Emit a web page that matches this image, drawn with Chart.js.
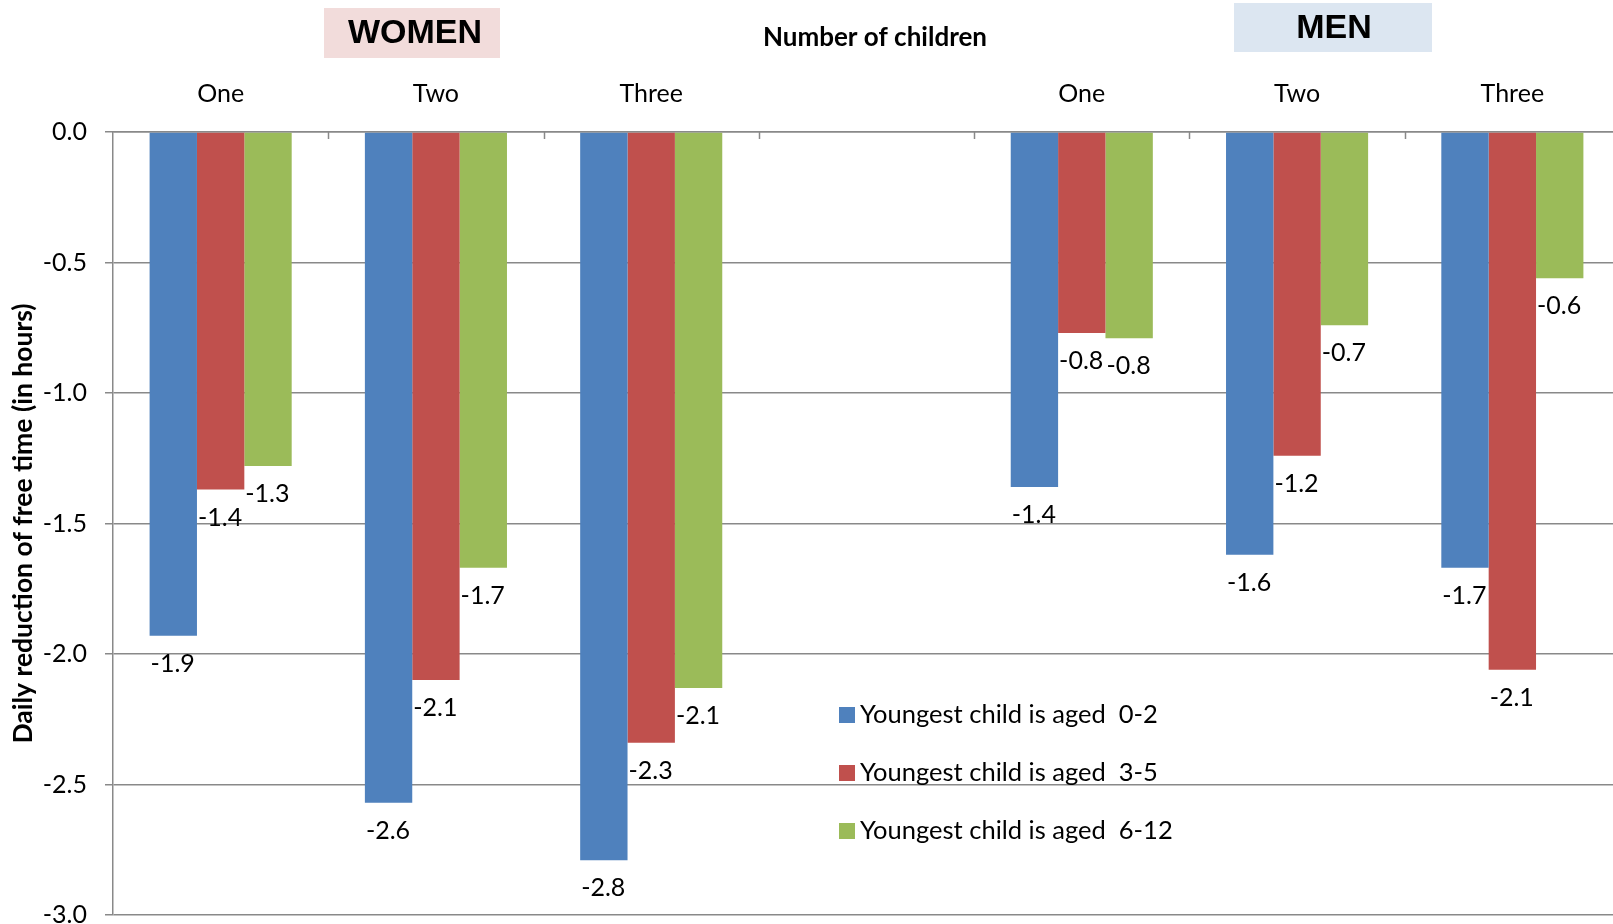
<!DOCTYPE html>
<html>
<head>
<meta charset="utf-8">
<script src="https://cdn.jsdelivr.net/npm/chart.js@4.4.1/dist/chart.umd.min.js"></script>
<style>
  html, body { margin: 0; padding: 0; background: #fff; overflow: hidden; }
  #wrap { width: 1620px; height: 948px; position: relative; }
</style>
</head>
<body>
<div id="wrap"><canvas id="chart"></canvas></div>
<script>
// chart data
const categories = ["One", "Two", "Three", "", "One", "Two", "Three"];
const seriesNames = ["Youngest child is aged  0-2", "Youngest child is aged  3-5", "Youngest child is aged  6-12"];
const aged0to2 = [-1.93, -2.57, -2.79, null, -1.36, -1.62, -1.67];
const aged3to5 = [-1.37, -2.10, -2.34, null, -0.77, -1.24, -2.06];
const aged6to12 = [-1.28, -1.67, -2.13, null, -0.79, -0.74, -0.56];
const yTicks = [0, -0.5, -1, -1.5, -2, -2.5, -3];

const colors = ["#4f81bd", "#c0504d", "#9bbb59"];
const gridColor = "#898989";
const labelFont = "Lato, 'Noto Sans', sans-serif";

// value labels under each bar end
const valueLabels = {
    id: "valueLabels",
    afterDatasetsDraw(chart) {
        const ctx = chart.ctx;
        ctx.save();
        ctx.font = "25px " + labelFont;
        ctx.fillStyle = "#000";
        ctx.textAlign = "left";
        ctx.textBaseline = "middle";
        chart.data.datasets.forEach((ds, di) => {
            const meta = chart.getDatasetMeta(di);
            meta.data.forEach((bar, i) => {
                const v = ds.data[i];
                if (v === null) return;
                ctx.fillText(v.toFixed(1), bar.x - bar.width / 2 + 1, bar.y + 28);
            });
        });
        ctx.restore();
    }
};

// titles, inside tick marks and legend
const decorations = {
    id: "decorations",
    afterDraw(chart) {
        const ctx = chart.ctx;
        const x = chart.scales.x;
        const area = chart.chartArea;
        ctx.save();

        // small tick marks between categories
        const step = x.getPixelForValue(1) - x.getPixelForValue(0);
        ctx.strokeStyle = gridColor;
        ctx.lineWidth = 1.5;
        for (let i = 1; i < categories.length; i++) {
            const px = Math.round(x.getPixelForValue(i) - step / 2) + 0.5;
            ctx.beginPath();
            ctx.moveTo(px, area.top);
            ctx.lineTo(px, area.top + 7);
            ctx.stroke();
        }

        // group boxes
        ctx.fillStyle = "#f2dcdb";
        ctx.fillRect(324, 8, 176, 50);
        ctx.fillStyle = "#dce6f1";
        ctx.fillRect(1234, 3, 198, 49);

        ctx.fillStyle = "#000";
        ctx.textAlign = "center";
        ctx.textBaseline = "middle";
        ctx.font = "bold 34px 'Liberation Sans', Arial, sans-serif";
        ctx.fillText("WOMEN", 415, 34);
        ctx.fillText("MEN", 1334, 29);

        ctx.font = "bold 26px " + labelFont;
        ctx.fillText("Number of children", 875, 38);

        // legend
        ctx.textAlign = "left";
        ctx.font = "25.5px " + labelFont;
        const rows = [715, 773, 831];
        seriesNames.forEach((name, i) => {
            ctx.fillStyle = colors[i];
            ctx.fillRect(839, rows[i] - 8, 16, 16);
            ctx.fillStyle = "#000";
            ctx.fillText(name, 860, rows[i]);
        });
        ctx.restore();
    }
};

const ctx = document.getElementById("chart").getContext("2d");
new Chart(ctx, {
    type: "bar",
    data: {
        labels: categories,
        datasets: [
            { label: seriesNames[0], data: aged0to2, backgroundColor: colors[0] },
            { label: seriesNames[1], data: aged3to5, backgroundColor: colors[1] },
            { label: seriesNames[2], data: aged6to12, backgroundColor: colors[2] }
        ]
    },
    options: {
        responsive: true,
        maintainAspectRatio: false,
        animation: false,
        layout: { padding: { left: 0, right: 0, top: 0, bottom: 9 } },
        datasets: {
            bar: { categoryPercentage: 0.66, barPercentage: 1.0 }
        },
        plugins: {
            legend: { display: false },
            tooltip: { enabled: false }
        },
        scales: {
            x: {
                position: "top",
                grid: { display: false, drawTicks: false },
                border: { display: true, color: gridColor, width: 1.5 },
                ticks: {
                    color: "#000",
                    font: { family: labelFont, size: 25 },
                    padding: 23
                },
                afterFit(scale) { scale.height = 132; }
            },
            y: {
                min: -3,
                max: 0,
                afterBuildTicks(scale) {
                    scale.ticks = yTicks.map(v => ({ value: v }));
                },
                grid: { color: gridColor, lineWidth: 1.5, tickLength: 8 },
                border: { display: true, color: gridColor, width: 1.5 },
                ticks: {
                    color: "#000",
                    font: { family: labelFont, size: 25 },
                    padding: 18,
                    callback: v => v.toFixed(1)
                },
                title: {
                    display: true,
                    text: "Daily reduction of free time (in hours)",
                    color: "#000",
                    font: { family: labelFont, size: 26.5, weight: "bold" },
                    padding: { top: 8, bottom: 0 }
                },
                afterFit(scale) { scale.width = 113; }
            }
        }
    },
    plugins: [valueLabels, decorations]
});
</script>
</body>
</html>
